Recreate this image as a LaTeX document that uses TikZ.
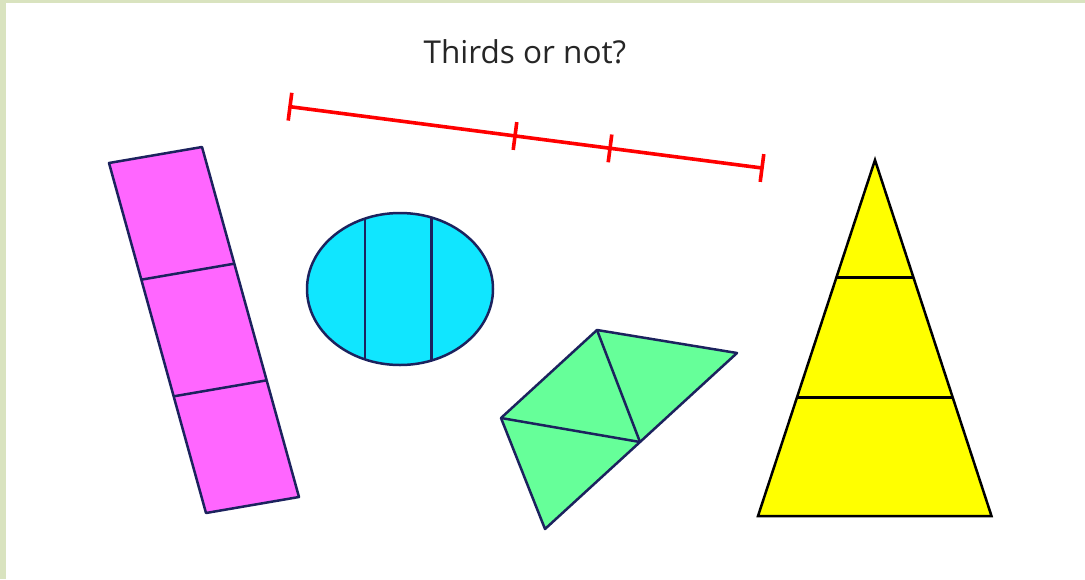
\documentclass[tikz,border=0pt]{standalone}
\usepackage{fontspec}
\setmainfont{Open Sans}
\usetikzlibrary{calc}
\definecolor{frame}{HTML}{D9E3BF}
\definecolor{navy}{HTML}{1C225E}
\definecolor{magfill}{HTML}{FF66FF}
\definecolor{cyanfill}{HTML}{10E6FF}
\definecolor{greenfill}{HTML}{66FF99}
\definecolor{yelfill}{HTML}{FFFF00}
\definecolor{rulered}{HTML}{FF0000}
\tikzset{
  shapeline/.style={draw=navy, line width=2.5pt, line join=round},
  triline/.style={draw=black, line width=2.5pt, line join=miter},
  redline/.style={draw=rulered, line width=3.6pt},
  title/.style={font=\fontsize{31.5}{38}\selectfont, text=black!85, inner sep=0pt}
}
\begin{document}
\begin{tikzpicture}[x=1pt,y=-1pt]
\useasboundingbox (0,0) rectangle (1085,579);
\fill[white] (0,0) rectangle (1085,579);
\fill[frame] (0,0) rectangle (6,579);
\fill[frame] (0,0) rectangle (1085,2.5);

\node[title] (t) at (525,52) {Thirds or not?};

% red ruler
\coordinate (r0) at (290,106.7);
\coordinate (r1) at (515,136.0);
\coordinate (r2) at (610,148.4);
\coordinate (r3) at (762,168);
\draw[redline] (r0) -- (r3);
\foreach \p in {r0,r1,r2,r3}{
  \draw[redline] ($(\p)!14pt!90:($(\p)+(r3)-(r0)$)$) -- ($(\p)!14pt!-90:($(\p)+(r3)-(r0)$)$);
}

% magenta rectangle
\coordinate (m1) at (109,163);
\coordinate (m2) at (202,147);
\coordinate (m3) at (299,497);
\coordinate (m4) at (206,513);
\filldraw[fill=magfill, shapeline] (m1) -- (m2) -- (m3) -- (m4) -- cycle;
\draw[shapeline] ($(m1)!1/3!(m4)$) -- ($(m2)!1/3!(m3)$);
\draw[shapeline] ($(m1)!2/3!(m4)$) -- ($(m2)!2/3!(m3)$);

% cyan ellipse
\coordinate (c) at (400,289);
\fill[cyanfill] (c) ellipse [x radius=93, y radius=76];
\begin{scope}
  \clip (c) ellipse [x radius=93, y radius=76];
  \draw[shapeline] (365,200) -- (365,380);
  \draw[shapeline] (431.5,200) -- (431.5,380);
\end{scope}
\draw[shapeline] (c) ellipse [x radius=93, y radius=76];

% green shape
\coordinate (g1) at (597,330);
\coordinate (g2) at (737,353);
\coordinate (g3) at (640,442);
\coordinate (g4) at (545,529);
\coordinate (g5) at (501,418);
\filldraw[fill=greenfill, shapeline] (g1) -- (g2) -- (g3) -- (g4) -- (g5) -- cycle;
\draw[shapeline] (g1) -- (g3);
\draw[shapeline] (g5) -- (g3);

% yellow triangle
\coordinate (y1) at (875,160);
\coordinate (y2) at (991.5,516);
\coordinate (y3) at (758,516);
\filldraw[fill=yelfill, triline] (y1) -- (y2) -- (y3) -- cycle;
\draw[triline] ($(y1)!0.3306!(y3)$) -- ($(y1)!0.3306!(y2)$);
\draw[triline] ($(y1)!0.6677!(y3)$) -- ($(y1)!0.6677!(y2)$);
\end{tikzpicture}
\end{document}
